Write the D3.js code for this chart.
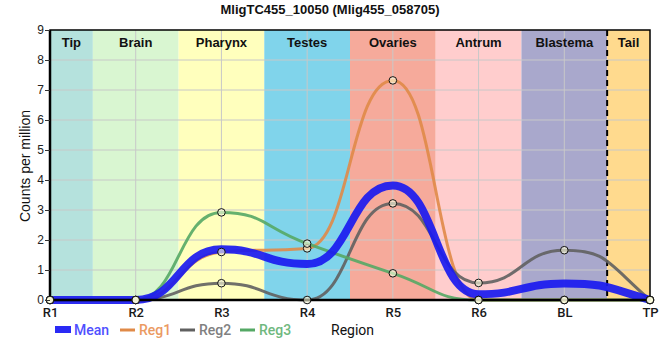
<!DOCTYPE html>
<html>
<head>
<meta charset="utf-8">
<script src="https://cdn.jsdelivr.net/npm/d3@7"></script>
<style>
body{margin:0;background:#fff;}
svg{display:block;}
</style>
</head>
<body>
<svg id="chart" width="660" height="360"></svg>
<script>
const categories = ["R1","R2","R3","R4","R5","R6","BL","TP"];
const mean = [0, 0, 1.69, 1.2, 3.82, 0.19, 0.55, 0];
const reg1 = [0, 0, 1.6, 1.72, 7.32, 0, 0, 0];
const reg2 = [0, 0, 0.56, 0, 3.22, 0.57, 1.66, 0];
const reg3 = [0, 0, 2.92, 1.88, 0.89, 0, 0, 0];
const regionNames = ["Tip","Brain","Pharynx","Testes","Ovaries","Antrum","Blastema","Tail"];
const regionStart = [0, 0.5, 1.5, 2.5, 3.5, 4.5, 5.5, 6.5];
const regionEnd = [0.5, 1.5, 2.5, 3.5, 4.5, 5.5, 6.5, 7];
const regionColors = ["#b5e2dd","#d9f6d1","#ffffbd","#80d4eb","#f6aa9b","#ffcdcd","#a9a8cc","#ffda8e"];
const yTicks = [0,1,2,3,4,5,6,7,8,9];

const svg = d3.select("#chart");
const L = 50, R = 650, T = 30, B = 300;
const x = d3.scaleLinear().domain([0, 7]).range([L, R]);
const y = d3.scaleLinear().domain([0, 9]).range([B, T]);

// backgrounds
svg.append("g").selectAll("rect").data(regionNames).join("rect")
  .attr("x", (d,i) => x(regionStart[i]))
  .attr("y", T)
  .attr("width", (d,i) => x(regionEnd[i]) - x(regionStart[i]))
  .attr("height", B - T)
  .attr("fill", (d,i) => regionColors[i]);

// grid
const grid = svg.append("g").attr("stroke", "#c8c8c8").attr("stroke-width", 1);
grid.selectAll("line.h").data(yTicks.slice(1, -1)).join("line").attr("class","h")
  .attr("x1", L).attr("x2", R).attr("y1", d => y(d)).attr("y2", d => y(d));
grid.selectAll("line.v").data(d3.range(1, categories.length - 1)).join("line").attr("class","v")
  .attr("y1", T).attr("y2", B).attr("x1", d => x(d)).attr("x2", d => x(d));

// region labels
svg.append("g").selectAll("text").data(regionNames).join("text")
  .attr("x", (d,i) => (x(regionStart[i]) + x(regionEnd[i])) / 2)
  .attr("y", 47)
  .attr("text-anchor", "middle")
  .attr("font-family", "Liberation Sans, Arial, sans-serif")
  .attr("font-weight", "bold")
  .attr("font-size", 13)
  .attr("fill", "#111")
  .text(d => d);

// dashed line before Tail
svg.append("line")
  .attr("x1", x(6.5)).attr("x2", x(6.5)).attr("y1", T).attr("y2", B)
  .attr("stroke", "#000").attr("stroke-width", 2).attr("stroke-dasharray", "6,4");

// monotone tangents (as in d3.curveMonotoneX), drawn with wide bezier handles
const sgn = v => v < 0 ? -1 : 1;
function tangents(v) {
  const n = v.length, s = [], m = new Array(n);
  for (let i = 0; i < n - 1; i++) s.push(v[i + 1] - v[i]);
  for (let i = 1; i < n - 1; i++) {
    const p = (s[i - 1] + s[i]) / 2;
    m[i] = (sgn(s[i - 1]) + sgn(s[i])) * Math.min(Math.abs(s[i - 1]), Math.abs(s[i]), 0.5 * Math.abs(p)) || 0;
  }
  m[0] = (3 * s[0] - m[1]) / 2;
  m[n - 1] = (3 * s[n - 2] - m[n - 2]) / 2;
  return m;
}
const handle = 0.5;
function curvePath(v) {
  const m = tangents(v);
  const p = d3.path();
  p.moveTo(x(0), y(v[0]));
  for (let i = 0; i < v.length - 1; i++) {
    p.bezierCurveTo(x(i + handle), y(v[i] + m[i] * handle),
                    x(i + 1 - handle), y(v[i + 1] - m[i + 1] * handle),
                    x(i + 1), y(v[i + 1]));
  }
  return p.toString();
}

const series = [
  {name:"Reg1", data: reg1, color:"#e08a48", w:3},
  {name:"Reg2", data: reg2, color:"#606060", w:3},
  {name:"Reg3", data: reg3, color:"#55a865", w:3}
];
series.forEach(s => {
  svg.append("path").attr("d", curvePath(s.data))
    .attr("fill", "none").attr("stroke", s.color).attr("stroke-width", s.w)
    .attr("stroke-opacity", 0.9);
});
svg.append("path").attr("d", curvePath(mean))
  .attr("fill", "none").attr("stroke", "#1a1af0").attr("stroke-width", 8)
  .attr("stroke-opacity", 0.92);

// axes frame
svg.append("rect").attr("x", L).attr("y", T).attr("width", R - L).attr("height", B - T)
  .attr("fill", "none").attr("stroke", "#000").attr("stroke-width", 1.5);
svg.append("line").attr("x1", L).attr("x2", L).attr("y1", T).attr("y2", B)
  .attr("stroke", "#000").attr("stroke-width", 2.5);
svg.append("line").attr("x1", L).attr("x2", R).attr("y1", B).attr("y2", B)
  .attr("stroke", "#000").attr("stroke-width", 2.5);

// markers
series.forEach(s => {
  svg.append("g").selectAll("circle").data(s.data).join("circle")
    .attr("cx", (d,i) => x(i)).attr("cy", d => y(d)).attr("r", 3.8)
    .attr("fill", "#ffffe0").attr("fill-opacity", 0.6)
    .attr("stroke", "#111").attr("stroke-width", 1);
});

// y axis
const yAxis = d3.axisLeft(y).tickValues(yTicks).tickSize(5).tickSizeOuter(0);
const gy = svg.append("g").attr("transform", `translate(${L},0)`).call(yAxis);
gy.select(".domain").remove();
gy.selectAll("text").attr("font-family", "Liberation Sans, Arial, sans-serif").attr("font-size", 12).attr("fill", "#222").attr("x", -6);
gy.selectAll("line").attr("stroke", "#333");

// x axis
const xAxis = d3.axisBottom(x).tickValues(d3.range(categories.length)).tickFormat(i => categories[i]).tickSize(0);
const gx = svg.append("g").attr("transform", `translate(0,${B})`).call(xAxis);
gx.select(".domain").remove();
gx.selectAll("text").attr("font-family", "Roboto, sans-serif").attr("font-weight", 500).attr("font-size", 13).attr("fill", "#1a1a1a").attr("dy", "1.1em");

// title
svg.append("text").attr("x", 330).attr("y", 14).attr("text-anchor", "middle")
  .attr("font-family", "Liberation Sans, Arial, sans-serif").attr("font-weight", "bold").attr("font-size", 13)
  .attr("fill", "#111").text("MligTC455_10050 (Mlig455_058705)");

// y title
svg.append("text").attr("transform", "translate(30,166) rotate(-90)").attr("text-anchor", "middle")
  .attr("font-family", "Liberation Sans, Arial, sans-serif").attr("font-size", 14).attr("fill", "#111")
  .text("Counts per million");

// legend
const lg = svg.append("g").attr("font-family", "Roboto, sans-serif").attr("font-size", 14);
lg.append("rect").attr("x", 55).attr("y", 326).attr("width", 16).attr("height", 7).attr("fill", "#2a2af5");
lg.append("text").attr("x", 74).attr("y", 335).attr("fill", "#5050ff").attr("font-weight", 500).text("Mean");
const legItems = [
  {name:"Reg1", color:"#e08a48", text:"#eb9a62", x:120},
  {name:"Reg2", color:"#606060", text:"#808080", x:180},
  {name:"Reg3", color:"#55a865", text:"#6fb87e", x:240}
];
legItems.forEach(d => {
  lg.append("line").attr("x1", d.x).attr("x2", d.x + 15).attr("y1", 330).attr("y2", 330)
    .attr("stroke", d.color).attr("stroke-width", 3);
  lg.append("text").attr("x", d.x + 19).attr("y", 335).attr("fill", d.text).attr("font-weight", 500).text(d.name);
});
lg.append("text").attr("x", 331).attr("y", 335).attr("fill", "#111").text("Region");
</script>
</body>
</html>
